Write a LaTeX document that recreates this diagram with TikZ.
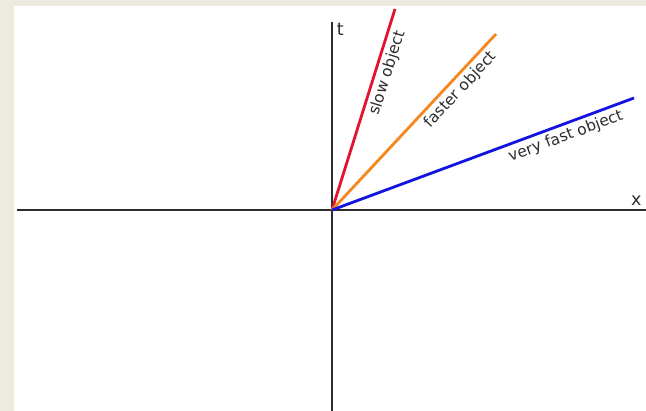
\documentclass[tikz,border=0pt]{standalone}
\usepackage{fontspec}
\setmainfont{DejaVu Sans}
\usepackage{tikz}
\usetikzlibrary{positioning}
\definecolor{pagebeige}{RGB}{237,234,224}
\definecolor{axisgray}{RGB}{45,45,45}
\definecolor{slowred}{RGB}{225,20,45}
\definecolor{fastorange}{RGB}{245,135,30}
\definecolor{fastblue}{RGB}{20,20,225}

\begin{document}
\begin{tikzpicture}[
  axis/.style={line width=1.3pt, axisgray},
  worldline/.style={line width=2pt, #1},
  lbl/.style={font=\fontsize{11}{13}\selectfont, text=axisgray, inner sep=2.5pt},
  axlbl/.style={font=\fontsize{12.5}{14}\selectfont, text=axisgray, inner sep=1pt},
]
  % Background
  \fill[pagebeige] (-8.3,-5.025) rectangle (7.85,5.25);
  \fill[white] (-7.95,-5.025) rectangle (7.85,5.1);
  \useasboundingbox (-8.3,-5.025) rectangle (7.85,5.25);

  % Axes
  \coordinate (O) at (0,0);
  \coordinate (xl) at (-7.875,0);
  \coordinate (xr) at (7.85,0);
  \coordinate (tb) at (0,-5.025);
  \coordinate (tt) at (0,4.7);
  \draw[axis] (xl) -- (xr);
  \draw[axis] (tb) -- (tt);
  \node[axlbl, anchor=north west] (tlab) at (0.08,4.72) {t};
  \node[axlbl, anchor=south east] (xlab) at (7.78,0.08) {x};

  % World lines
  \coordinate (slow) at (1.575,5.025);
  \coordinate (faster) at (4.1,4.4);
  \coordinate (vfast) at (7.55,2.8);
  \draw[worldline=slowred] (O) -- node[lbl, pos=0.70, sloped, below] {slow object} (slow);
  \draw[worldline=fastorange] (O) -- node[lbl, pos=0.73, sloped, below] {faster object} (faster);
  \draw[worldline=fastblue] (O) -- node[lbl, pos=0.76, sloped, below] {very fast object} (vfast);
\end{tikzpicture}
\end{document}
